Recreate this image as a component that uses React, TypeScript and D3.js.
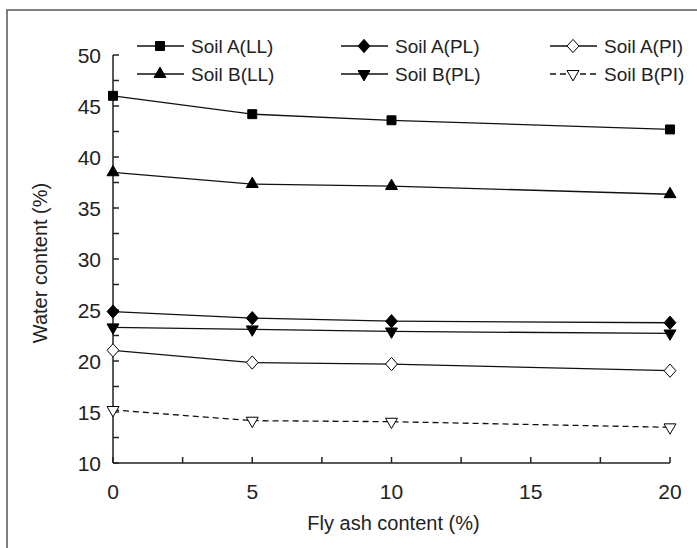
import React from 'react';
import { scaleLinear, line, symbol, symbolSquare, symbolTriangle, range } from 'd3';

const width = 697;
const height = 548;
const margin = { top: 55, right: 27, bottom: 85, left: 113 };

// fly ash content (%)
const flyAsh = [0, 5, 10, 20];

// water content (%) for each series
const soilALL = [46.0, 44.2, 43.6, 42.7];
const soilBLL = [38.5, 37.35, 37.15, 36.35];
const soilAPL = [24.85, 24.2, 23.9, 23.75];
const soilBPL = [23.3, 23.1, 22.9, 22.7];
const soilAPI = [21.05, 19.85, 19.7, 19.05];
const soilBPI = [15.2, 14.15, 14.05, 13.5];

const xTicks = [0, 5, 10, 15, 20];
const yTicks = [10, 15, 20, 25, 30, 35, 40, 45, 50];

const series = [
  { name: 'Soil A(LL)', values: soilALL, shape: 'square', fill: '#000', dash: null },
  { name: 'Soil A(PL)', values: soilAPL, shape: 'diamond', fill: '#000', dash: null },
  { name: 'Soil A(PI)', values: soilAPI, shape: 'diamond', fill: '#fff', dash: null },
  { name: 'Soil B(LL)', values: soilBLL, shape: 'triangle', fill: '#000', dash: null },
  { name: 'Soil B(PL)', values: soilBPL, shape: 'triangleDown', fill: '#000', dash: null },
  { name: 'Soil B(PI)', values: soilBPI, shape: 'triangleDown', fill: '#fff', dash: '6,4' },
];

const legendCols = [137, 341, 550];
const legendRows = [46, 74];

const font = '"Liberation Sans", Arial, sans-serif';

function Marker({ shape, fill, x, y }) {
  let d;
  let tf = `translate(${x},${y})`;
  if (shape === 'square') d = symbol(symbolSquare, 80)();
  else if (shape === 'diamond') {
    // rhombus, a touch taller than wide
    d = symbol(symbolSquare, 70)();
    tf += ' scale(1,1.12) rotate(45)';
  } else {
    d = symbol(symbolTriangle, 62)();
    if (shape === 'triangleDown') tf += ' rotate(180)';
  }
  return (
    <path
      d={d}
      transform={tf}
      fill={fill}
      stroke="#000"
      strokeWidth={1}
      vectorEffect="non-scaling-stroke"
    />
  );
}

export default function App() {
  const xScale = scaleLinear().domain([0, 20]).range([margin.left, width - margin.right]);
  const yScale = scaleLinear().domain([10, 50]).range([height - margin.bottom, margin.top]);

  const lineFn = line<number>()
    .x((d, i) => xScale(flyAsh[i]))
    .y((d) => yScale(d));

  const x0 = xScale(0);
  const y0 = yScale(10);
  const minorX = range(0, 20.01, 2.5);
  const minorY = range(10, 50.01, 2.5);

  return (
    <svg
      width={width}
      height={height}
      style={{ position: 'absolute', left: 0, top: 0, background: '#fff' }}
      fontFamily={font}
    >
      {/* outer frame */}
      <path d={`M7,${height} V10 H${width}`} fill="none" stroke="#555" strokeWidth={1.5} />

      {/* axes */}
      <g stroke="#222" strokeWidth={1.5} fill="none">
        <line x1={x0} x2={x0} y1={yScale(50)} y2={y0} />
        <line x1={x0} x2={xScale(20)} y1={y0} y2={y0} />
        {minorY.map((v) => (
          <line key={'yt' + v} x1={x0} x2={x0 + 6} y1={yScale(v)} y2={yScale(v)} />
        ))}
        {minorX.map((v) => (
          <line key={'xt' + v} x1={xScale(v)} x2={xScale(v)} y1={y0} y2={y0 - 6} />
        ))}
      </g>

      <g fontSize={21} fill="#222">
        {yTicks.map((v) => (
          <text key={'yl' + v} x={x0 - 12} y={yScale(v)} textAnchor="end" dominantBaseline="central">
            {v}
          </text>
        ))}
        {xTicks.map((v) => (
          <text key={'xl' + v} x={xScale(v)} y={y0 + 28} textAnchor="middle" dominantBaseline="central">
            {v}
          </text>
        ))}
      </g>

      <text x={(xScale(0) + xScale(20)) / 2 + 2} y={523} textAnchor="middle" dominantBaseline="central" fontSize={20} fill="#222">
        Fly ash content (%)
      </text>
      <text
        transform={`translate(40,${(yScale(10) + yScale(50)) / 2 + 4}) rotate(-90)`}
        textAnchor="middle"
        dominantBaseline="central"
        fontSize={20}
        fill="#222"
      >
        Water content (%)
      </text>

      {/* series */}
      {series.map((s) => (
        <g key={s.name}>
          <path d={lineFn(s.values)} fill="none" stroke="#111" strokeWidth={1.3} strokeDasharray={s.dash || undefined} />
          {s.values.map((v, i) => (
            <Marker key={i} shape={s.shape} fill={s.fill} x={xScale(flyAsh[i])} y={yScale(v)} />
          ))}
        </g>
      ))}

      {/* legend */}
      {series.map((s, i) => {
        const lx = legendCols[i % 3];
        const ly = legendRows[Math.floor(i / 3)];
        return (
          <g key={'lg' + s.name}>
            <line x1={lx} x2={lx + 47} y1={ly} y2={ly} stroke="#111" strokeWidth={1.3} strokeDasharray={s.dash || undefined} />
            <Marker shape={s.shape} fill={s.fill} x={lx + 23} y={ly} />
            <text x={lx + 54} y={ly} dominantBaseline="central" fontSize={19} fill="#222">
              {s.name}
            </text>
          </g>
        );
      })}
    </svg>
  );
}
